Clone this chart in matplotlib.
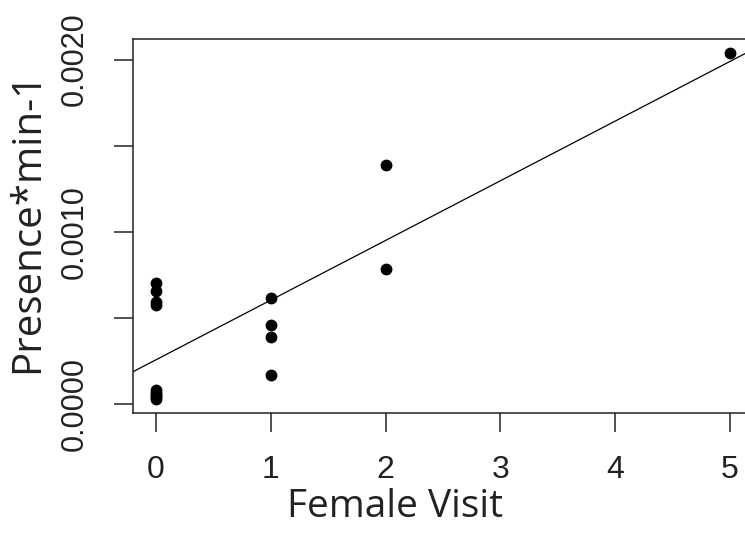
import numpy as np
import matplotlib
matplotlib.use('Agg')
import matplotlib.pyplot as plt

# data
female_visit = [0, 0, 0, 0, 0, 0, 0, 0, 0, 1, 1, 1, 1, 2, 2, 5]
presence_min = [0.000701, 0.000655, 0.000591, 0.000574,
                0.000082, 0.000066, 0.000052, 0.000040, 0.000030,
                0.000619, 0.000458, 0.000390, 0.000168,
                0.001386, 0.000783, 0.002039]
x_ticks = [0, 1, 2, 3, 4, 5]
y_ticks = [0.0000, 0.0005, 0.0010, 0.0015, 0.0020]
y_tick_labels = ['0.0000', '', '0.0010', '', '0.0020']

x = np.array(female_visit)
y = np.array(presence_min)

W, H = 745, 541
fig = plt.figure(figsize=(W / 100, H / 100), dpi=100)
# box: left 133px, top 39px, bottom 413px, runs off the right edge
ax = fig.add_axes([133 / W, (H - 413) / H, 620 / W, 374 / H])

ax.plot(x, y, 'o', color='black', ms=7.5, mec='black')

# R-style abline(lm(y ~ x))
slope, icept = np.polyfit(x, y, 1)
xl = np.array([-1, 6])
ax.plot(xl, icept + slope * xl, color='black', lw=0.9)

# R default 4% axis extension
xr = x.max() - x.min()
yr = y.max() - y.min()
ax.set_xlim(x.min() - 0.04 * xr, x.max() + 0.04 * xr)
ax.set_ylim(y.min() - 0.04 * yr, y.max() + 0.04 * yr)

ax.set_xticks(x_ticks)
ax.set_xticklabels([str(t) for t in x_ticks], fontsize=23, family='Liberation Sans', color='#222222')
ax.set_yticks(y_ticks)
ax.set_yticklabels(y_tick_labels, fontsize=22, family='Liberation Sans', color='#222222',
                   rotation=90, va='center')

ax.tick_params(direction='out', length=14, width=1.1, colors='#222222')
ax.tick_params(axis='x', pad=16)
ax.tick_params(axis='y', pad=17)
for s in ax.spines.values():
    s.set_linewidth(1.1)
    s.set_color('#222222')
ax.spines['right'].set_visible(False)

fig.text(395 / W, 1 - 507 / H, 'Female Visit', fontsize=28, family='Open Sans',
         ha='center', va='center', color='#222222')
fig.text(28 / W, 1 - 222 / H, 'Presence*min-1', fontsize=29, family='Open Sans',
         ha='center', va='center', rotation=90, color='#222222')

fig.savefig('out.png', dpi=100)
